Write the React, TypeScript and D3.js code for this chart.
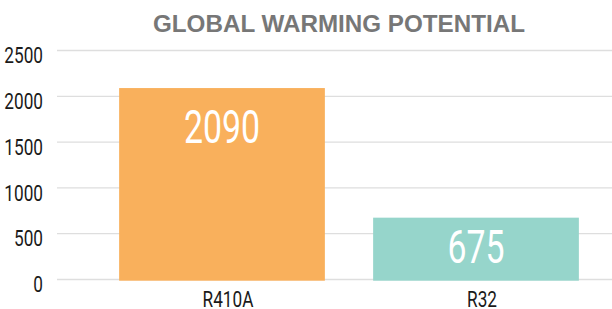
import React from 'react'
import * as d3 from 'd3'

const categories = ['R410A', 'R32']
const values = [2090, 675]
const barColors = ['#F9B05C', '#96D5CB']
const yTicks = [0, 500, 1000, 1500, 2000, 2500]
const title = 'GLOBAL WARMING POTENTIAL'

const W = 612
const H = 309

export default function App() {
  const x = d3.scaleBand<string>()
    .domain(categories)
    .range([95, 603])
    .paddingInner(0.19)
    .paddingOuter(0.095)

  const y = d3.scaleLinear()
    .domain([0, 2500])
    .range([279.5, 50.5])

  const condensed = (s: number) => `scale(${s},1)`

  return (
    <svg width={W} height={H} style={{ position: 'absolute', left: 0, top: 0 }}>
      <text
        x={339}
        y={31.5}
        textAnchor="middle"
        fontFamily="'Liberation Sans', Arial, sans-serif"
        fontWeight="bold"
        fontSize={24.5}
        fill="#777777"
        textLength={372}
        lengthAdjust="spacingAndGlyphs"
      >
        {title}
      </text>

      {/* grid + y ticks */}
      {yTicks.map(t => (
        <g key={t}>
          <line x1={57} x2={W} y1={y(t)} y2={y(t)} stroke="#dedede" strokeWidth={1.3} />
          <g transform={`translate(43,${y(t) + 12.7}) ${condensed(0.8)}`}>
            <text textAnchor="end" fontFamily="Roboto, sans-serif" fontSize={21.5} fill="#1a1a1a">
              {t}
            </text>
          </g>
        </g>
      ))}

      {/* bars */}
      {categories.map((c, i) => {
        const top = y(values[i])
        const h = y(0) - top + 1.2
        const cx = (x(c) ?? 0) + x.bandwidth() / 2
        const labelY = top + Math.min(55, h * 0.72)
        return (
          <g key={c}>
            <rect x={x(c)} y={top} width={x.bandwidth()} height={h} fill={barColors[i]} />
            <g transform={`translate(${cx},${labelY}) ${condensed(0.72)}`}>
              <text textAnchor="middle" fontFamily="Roboto, sans-serif" fontWeight={400} fontSize={47} fill="#ffffff">
                {values[i]}
              </text>
            </g>
            <g transform={`translate(${cx + 6},${306.5}) ${condensed(0.8)}`}>
              <text textAnchor="middle" fontFamily="Roboto, sans-serif" fontSize={21.5} fill="#1a1a1a">
                {c}
              </text>
            </g>
          </g>
        )
      })}
    </svg>
  )
}
